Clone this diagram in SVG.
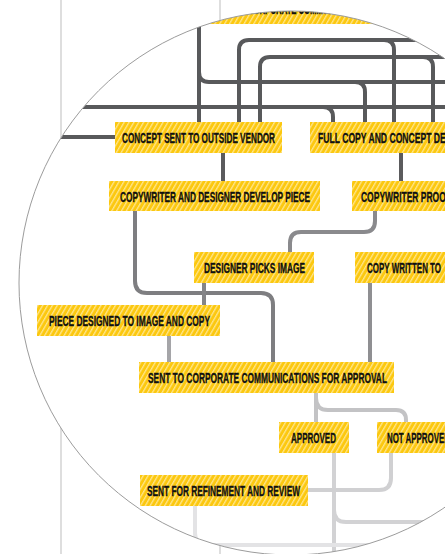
<svg xmlns="http://www.w3.org/2000/svg" width="445" height="554" viewBox="0 0 445 554">
<style>
.lens{fill:#fff;stroke:none}
.rim{fill:none;stroke:#9c9c9c;stroke-width:1}
.bg{stroke:#d6d6d6;stroke-width:1.6;fill:none}
.c{fill:none;stroke-width:4;stroke-linecap:butt;stroke-linejoin:round}
.d{stroke:#58595b}
.box{fill:url(#hatch)}
.t{font-family:"Liberation Sans",Arial,sans-serif;font-weight:bold;font-size:15px;fill:#111;stroke:#111;stroke-width:0.35}
</style>
<defs>
<pattern id="hatch" patternUnits="userSpaceOnUse" width="4.2" height="4.2" patternTransform="rotate(30)">
<rect width="4.2" height="4.2" fill="#fcc80f"/>
<rect width="1.3" height="4.2" fill="#fee58c"/>
</pattern>
<clipPath id="lensClip"><circle cx="291" cy="283" r="272"/></clipPath>
</defs>
<rect width="445" height="554" fill="#fff"/>
<g id="background-lines">
<line class="bg" x1="61" y1="0" x2="61" y2="554"/>
<line class="bg" x1="220" y1="0" x2="220" y2="554"/>
</g>
<circle class="lens" cx="291" cy="283" r="272"/>
<g clip-path="url(#lensClip)">
<g id="connectors">
<path class="c d" d="M199,-10 V122"/>
<path class="c d" d="M199,-10 V72 Q199,82 209,82 H355 Q365,82 365,92 V122"/>
<path class="c d" d="M355,82 H460"/>
<path class="c d" d="M239,122 V50 Q239,40 249,40 H384 Q394,40 394,50 V122"/>
<path class="c d" d="M384,40 H460"/>
<path class="c d" d="M260,122 V67 Q260,57 270,57 H423 Q433,57 433,67 V122"/>
<path class="c d" d="M423,57 H460"/>
<path class="c d" d="M0,107 H323 Q333,107 333,117 V122"/>
<path class="c d" d="M323,107 H460"/>
<path class="c d" d="M0,137 H115"/>
<path class="c" stroke="#5b5b5d" d="M223,153 V181"/>
<path class="c" stroke="#5b5b5d" d="M401,153 V181"/>
<path class="c" stroke="#7e7e81" d="M135,211 V281 Q135,293 147,293 H261 Q273,293 273,305 V362"/>
<path class="c" stroke="#8a8a8d" d="M375,211 V221 Q375,232 364,232 H301 Q290,232 290,243 V252"/>
<path class="c" stroke="#858588" d="M204,283 V305"/>
<path class="c" stroke="#8f8f92" d="M370,283 V362"/>
<path class="c" stroke="#a5a5a8" d="M169,336 V362"/>
<path class="c" stroke="#c3c3c5" d="M316,393 V422"/>
<path class="c" stroke="#c3c3c5" d="M316,398 Q316,410 328,410 H396 Q406,410 406,420 V422"/>
<path class="c" stroke="#d2d2d4" d="M334,453 V560"/>
<path class="c" stroke="#d2d2d4" d="M334,510 Q334,522 346,522 H460"/>
<path class="c" stroke="#d0d0d2" d="M391,453 V478 Q391,490 379,490 H308"/>
<path class="c" stroke="#e3e3e5" d="M195,506 V533 Q195,545 207,545 H460"/>
</g>
<g id="node-top">
<rect class="box" x="190" y="-7" width="200" height="31"/>
<text class="t" x="248" y="13.5" textLength="122" lengthAdjust="spacingAndGlyphs">CORPORATE COMMUNICATIONS</text>
</g>
<g id="node-concept-vendor">
<rect class="box" x="115" y="122" width="167" height="31"/>
<text class="t" x="122" y="143" textLength="153" lengthAdjust="spacingAndGlyphs">CONCEPT SENT TO OUTSIDE VENDOR</text>
</g>
<g id="node-full-copy">
<rect class="box" x="310" y="122" width="150" height="31"/>
<text class="t" x="318" y="143" textLength="133" lengthAdjust="spacingAndGlyphs">FULL COPY AND CONCEPT DEL</text>
</g>
<g id="node-develop-piece">
<rect class="box" x="109" y="181" width="211" height="30"/>
<text class="t" x="120" y="201.5" textLength="190" lengthAdjust="spacingAndGlyphs">COPYWRITER AND DESIGNER DEVELOP PIECE</text>
</g>
<g id="node-copywriter-proof">
<rect class="box" x="352" y="181" width="100" height="30"/>
<text class="t" x="361" y="201.5" textLength="90" lengthAdjust="spacingAndGlyphs">COPYWRITER PROOF</text>
</g>
<g id="node-designer-picks">
<rect class="box" x="194" y="252" width="120" height="31"/>
<text class="t" x="204" y="273" textLength="101" lengthAdjust="spacingAndGlyphs">DESIGNER PICKS IMAGE</text>
</g>
<g id="node-copy-written">
<rect class="box" x="355" y="252" width="100" height="31"/>
<text class="t" x="367" y="273" textLength="74" lengthAdjust="spacingAndGlyphs">COPY WRITTEN TO</text>
</g>
<g id="node-piece-designed">
<rect class="box" x="37" y="305" width="183" height="31"/>
<text class="t" x="49" y="326" textLength="161" lengthAdjust="spacingAndGlyphs">PIECE DESIGNED TO IMAGE AND COPY</text>
</g>
<g id="node-corp-comm">
<rect class="box" x="139" y="362" width="255" height="31"/>
<text class="t" x="148" y="383" textLength="239" lengthAdjust="spacingAndGlyphs">SENT TO CORPORATE COMMUNICATIONS FOR APPROVAL</text>
</g>
<g id="node-approved">
<rect class="box" x="279" y="422" width="70" height="31"/>
<text class="t" x="291" y="443" textLength="45" lengthAdjust="spacingAndGlyphs">APPROVED</text>
</g>
<g id="node-not-approved">
<rect class="box" x="377" y="422" width="80" height="31"/>
<text class="t" x="387" y="443" textLength="63" lengthAdjust="spacingAndGlyphs">NOT APPROVED</text>
</g>
<g id="node-refinement">
<rect class="box" x="140" y="475" width="168" height="31"/>
<text class="t" x="147" y="496" textLength="153" lengthAdjust="spacingAndGlyphs">SENT FOR REFINEMENT AND REVIEW</text>
</g>
</g>
<circle class="rim" cx="291" cy="283" r="272"/>
</svg>
